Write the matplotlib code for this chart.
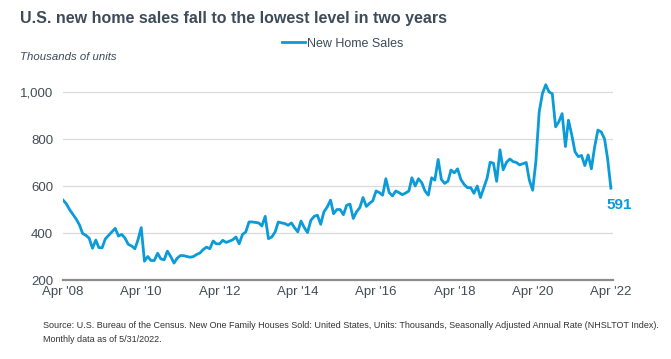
import pandas as pd
import matplotlib.pyplot as plt

# Monthly new home sales, thousands of units (SAAR), Apr 2008 - Apr 2022
sales = [
    540, 525, 500, 480, 460, 435, 398, 390, 378,                      # 2008
    335, 370, 338, 337, 375, 390, 405, 420, 387, 394, 378, 352,       # 2009
    345, 333, 370, 423, 280, 300, 283, 283, 314, 290, 286, 323,       # 2010
    300, 272, 292, 304, 304, 300, 297, 300, 309, 315, 330, 340,       # 2011
    333, 366, 354, 354, 369, 360, 365, 371, 383, 354, 394, 404,       # 2012
    447, 447, 445, 443, 430, 471, 376, 383, 404, 447, 443, 440,       # 2013
    433, 443, 423, 405, 451, 423, 402, 454, 471, 476, 437, 490,       # 2014
    511, 540, 482, 500, 500, 478, 518, 523, 462, 490, 508, 551,       # 2015
    513, 527, 537, 579, 572, 561, 631, 572, 558, 579, 572, 563,       # 2016
    570, 579, 635, 600, 631, 614, 579, 561, 635, 625, 713, 628,       # 2017
    611, 621, 668, 656, 673, 628, 607, 593, 593, 569, 600, 551,       # 2018
    593, 634, 701, 697, 620, 754, 669, 701, 715, 704, 700, 690,       # 2019
    695, 700, 625, 582, 704, 915, 993, 1031, 1000, 993, 852, 873,     # 2020
    908, 768, 880, 817, 746, 725, 730, 687, 732, 673, 768, 838,       # 2021
    830, 800, 718, 591,                                               # 2022
]
dates = pd.date_range("2008-04-01", periods=len(sales), freq="MS")

tick_years = [2008, 2010, 2012, 2014, 2016, 2018, 2020, 2022]
y_ticks = [200, 400, 600, 800, 1000]

blue = "#0a9bd8"
dark = "#3d4b5a"

plt.rcParams["font.family"] = ["Liberation Sans", "DejaVu Sans"]

fig = plt.figure(figsize=(6.71, 3.59), dpi=100)
ax = fig.add_axes([0.0939, 0.22, 0.8197, 0.563])

ax.plot(dates, sales, color=blue, lw=2.0, label="New Home Sales", solid_joinstyle="round")

ax.set_xlim(dates[0], dates[-1] + pd.Timedelta(days=20))
ax.set_ylim(200, 1060)
ax.set_yticks(y_ticks)
ax.set_yticklabels([f"{v:,}" for v in y_ticks])
ax.set_xticks([pd.Timestamp(f"{y}-04-01") for y in tick_years])
ax.set_xticklabels([f"Apr '{y % 100:02d}" for y in tick_years])

ax.grid(axis="y", color="#d9d9d9", lw=0.9)
ax.set_axisbelow(True)
for s in ["top", "right", "left"]:
    ax.spines[s].set_visible(False)
ax.spines["bottom"].set_color("#8c8c8c")
ax.spines["bottom"].set_linewidth(1.6)
ax.tick_params(axis="both", length=0, labelsize=9.5, labelcolor="#444c56")
ax.tick_params(axis="x", pad=4)
ax.tick_params(axis="y", pad=7)

# last value label
ax.annotate(f"{sales[-1]}", xy=(dates[-1], sales[-1]), xytext=(6, -12),
            textcoords="offset points", ha="center", va="center",
            fontsize=11, fontweight="bold", color=blue)

fig.text(0.030, 0.948, "U.S. new home sales fall to the lowest level in two years",
         fontsize=11.5, fontweight="bold", color=dark, va="center")
fig.legend(loc="center", bbox_to_anchor=(0.51, 0.878), frameon=False,
           fontsize=9, handlelength=1.9, handletextpad=0.1, labelcolor=dark)
fig.text(0.030, 0.840, "Thousands of units", fontsize=8.2, style="italic",
         color=dark, va="center")

fig.text(0.064, 0.093,
         "Source: U.S. Bureau of the Census. New One Family Houses Sold: United States, Units: Thousands, "
         "Seasonally Adjusted Annual Rate (NHSLTOT Index).",
         fontsize=6.5, color="#333333", va="center")
fig.text(0.064, 0.055, "Monthly data as of 5/31/2022.", fontsize=6.5, color="#333333", va="center")

fig.savefig("out.png", dpi=100)
